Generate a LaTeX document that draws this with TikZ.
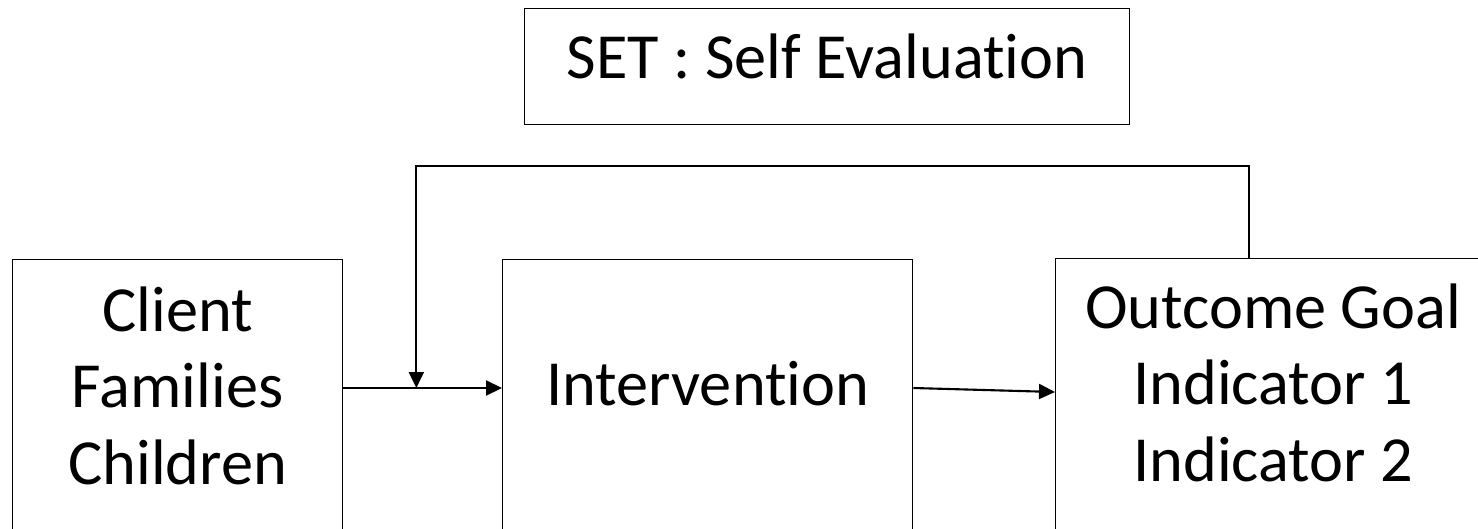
\documentclass[tikz,border=0pt]{standalone}
\usepackage{fontspec}
\setmainfont[Ligatures=NoCommon]{Carlito}
\usetikzlibrary{arrows.meta,positioning,calc}
\tikzset{
  box/.style={draw,line width=0.8pt,inner sep=0pt,anchor=north west},
  txt/.style={font=\fontsize{36.6}{43.8}\selectfont,align=center,inner sep=0pt},
  flow/.style={-{Triangle[length=0.32cm,width=0.3cm]},line width=1.2pt},
}

\begin{document}
\begin{tikzpicture}[x=0.02cm,y=-0.02cm]
  \clip (0,0) rectangle (1478,528);
  % top box
  \node[box,txt,minimum width=12.1cm,text height=1.4cm,text depth=0.92cm] (set) at (524,8) {SET : Self Evaluation};
  % lower boxes
  \node[box,minimum width=6.6cm,minimum height=6.8cm] (client) at (12,259) {};
  \node[box,minimum width=8.2cm,minimum height=6.8cm] (mid) at (502,259) {};
  \node[box,minimum width=8.7cm,minimum height=6.8cm] (out) at (1055,258) {};
  \node[txt,below=0.54cm of client.north] (clienttxt) {Client\\Families\\Children};
  \node[txt,anchor=base] (midtxt) at ($(mid.north)+(0,146)$) {Intervention};
  \node[txt,below=0.5cm of out.north] (outtxt) {Outcome Goal\\Indicator 1\\Indicator 2};
  % connectors
  \coordinate (c1) at ($(client.north east)+(0,129)$);
  \coordinate (join) at ($(c1)+(73,0)$);
  \coordinate (m1) at ($(mid.north east)+(0,129)$);
  \coordinate (o1) at ($(out.north west)+(0,134)$);
  \coordinate (fb) at ($(out.north west)+(194,0)$);
  \draw[flow] (c1) -- (c1 -| mid.west);
  \draw[flow] (m1) -- (o1);
  \draw[flow] (fb) -- ++(0,-92) -| (join);
\end{tikzpicture}
\end{document}
